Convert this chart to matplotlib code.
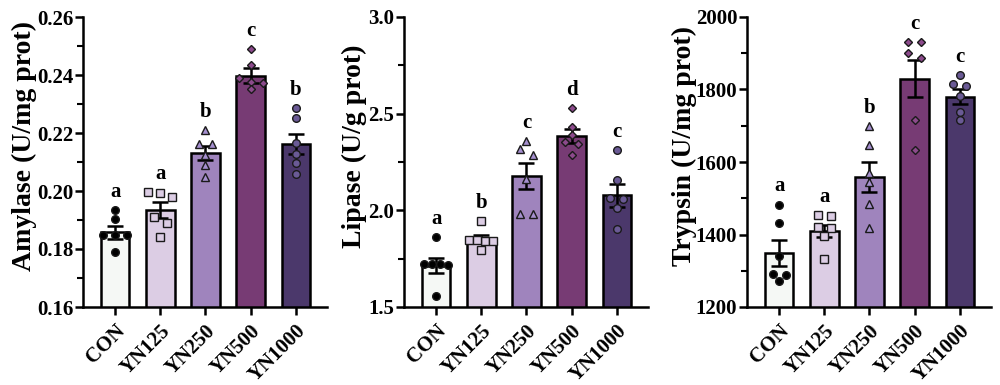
import numpy as np
import matplotlib
matplotlib.use("Agg")
import matplotlib.pyplot as plt
from matplotlib.ticker import MultipleLocator

plt.rcParams['font.family'] = ['Liberation Serif', 'DejaVu Serif']
plt.rcParams['font.weight'] = 'bold'

groups = ["CON", "YN125", "YN250", "YN500", "YN1000"]

# Amylase (U/mg prot)
amy_mean = [0.1857, 0.1935, 0.2130, 0.2398, 0.2162]
amy_sem = [0.0023, 0.0027, 0.0024, 0.0025, 0.0036]
amy_pts = [
    [0.1933, 0.1904, 0.1848, 0.1848, 0.1848, 0.1788],
    [0.1998, 0.1979, 0.1993, 0.1909, 0.1890, 0.1840],
    [0.2210, 0.2161, 0.2161, 0.2123, 0.2088, 0.2048],
    [0.2490, 0.2433, 0.2389, 0.2375, 0.2371, 0.2352],
    [0.2285, 0.2252, 0.2164, 0.2129, 0.2098, 0.2060],
]
amy_letters = ["a", "a", "b", "c", "b"]

# Lipase (U/g prot)
lip_mean = [1.713, 1.852, 2.177, 2.383, 2.077]
lip_sem = [0.038, 0.018, 0.068, 0.036, 0.058]
lip_pts = [
    [1.860, 1.722, 1.720, 1.718, 1.720, 1.557],
    [1.947, 1.847, 1.842, 1.846, 1.840, 1.796],
    [2.357, 2.319, 2.288, 2.160, 1.982, 1.982],
    [2.531, 2.432, 2.392, 2.354, 2.345, 2.288],
    [2.311, 2.155, 2.063, 2.060, 2.011, 1.904],
]
lip_letters = ["a", "b", "c", "d", "c"]

# Trypsin (U/mg prot)
try_mean = [1349, 1409, 1558, 1829, 1780]
try_sem = [35, 17, 42, 51, 21]
try_pts = [
    [1482.7, 1431.0, 1341.0, 1290.5, 1287.8, 1272.0],
    [1452.0, 1455.0, 1417.0, 1420.0, 1397.0, 1332.0],
    [1700.0, 1646.0, 1570.0, 1545.0, 1484.5, 1418.0],
    [1930.7, 1930.0, 1900.0, 1886.0, 1715.0, 1634.0],
    [1840.0, 1814.0, 1810.6, 1783.0, 1737.0, 1715.5],
]
try_letters = ["a", "a", "b", "c", "c"]

bar_colors = ["#f5f8f5", "#dccde4", "#9f84bd", "#773b74", "#4b386b"]
pt_colors = ["#000000", "#dccde4", "#a58fcf", "#8c4a8c", "#6a5a95"]
pt_markers = ["o", "s", "^", "D", "o"]
pt_sizes = [5.5, 5.5, 5.5, 4.5, 5.5]

panels = [
    dict(mean=amy_mean, sem=amy_sem, pts=amy_pts, letters=amy_letters,
         ylabel="Amylase (U/mg prot)", ylim=(0.16, 0.26), major=0.02, minor=0.01,
         fmt="{:.2f}", left=83, labx=37),
    dict(mean=lip_mean, sem=lip_sem, pts=lip_pts, letters=lip_letters,
         ylabel="Lipase (U/g prot)", ylim=(1.5, 3.0), major=0.5, minor=0.25,
         fmt="{:.1f}", left=404, labx=367),
    dict(mean=try_mean, sem=try_sem, pts=try_pts, letters=try_letters,
         ylabel="Trypsin (U/mg prot)", ylim=(1200, 2000), major=200, minor=100,
         fmt="{:.0f}", left=747, labx=697),
]

W, H = 1000, 385
fig = plt.figure(figsize=(W / 100, H / 100), dpi=100)
ax_w, ax_h = 244, 290
ax_bottom = H - 307
xlim = (-0.71, 4.69)
px_per_x = ax_w / (xlim[1] - xlim[0])


def swarm_offsets(vals, px_per_y, thresh=6.0, max_span=24.0, max_step=13.0):
    order = np.argsort(vals)[::-1]
    offs = np.zeros(len(vals))
    clusters = []
    for i in order:
        if clusters and abs(vals[clusters[-1][0]] - vals[i]) * px_per_y < thresh:
            clusters[-1].append(i)
        else:
            clusters.append([i])
    for c in clusters:
        n = len(c)
        if n == 1:
            continue
        step = min(max_step, max_span / (n - 1))
        for k, idx in enumerate(c):
            offs[idx] = (k - (n - 1) / 2) * step
    return offs / px_per_x


for p in panels:
    ax = fig.add_axes([p["left"] / W, ax_bottom / H, ax_w / W, ax_h / H])
    x = np.arange(len(groups))
    ax.bar(x, p["mean"], width=0.63, color=bar_colors, edgecolor="black",
           linewidth=1.8, zorder=2)
    ax.errorbar(x, p["mean"], yerr=p["sem"], fmt="none", ecolor="black",
                elinewidth=1.8, capsize=6, capthick=1.8, zorder=3)
    y0, y1 = p["ylim"]
    px_per_y = ax_h / (y1 - y0)
    for i, vals in enumerate(p["pts"]):
        vals = np.array(vals)
        offs = swarm_offsets(vals, px_per_y)
        ax.plot(x[i] + offs, vals, linestyle="none", marker=pt_markers[i],
                markersize=pt_sizes[i], markerfacecolor=pt_colors[i],
                markeredgecolor="#1a1a1a", markeredgewidth=1.0, zorder=4,
                clip_on=False)
        top = max(vals.max(), p["mean"][i] + p["sem"][i])
        ax.text(x[i], top + 0.045 * (y1 - y0), p["letters"][i], ha="center",
                va="baseline", fontsize=15, fontweight="bold")
    ax.set_xlim(*xlim)
    ax.set_ylim(y0, y1)
    ax.yaxis.set_major_locator(MultipleLocator(p["major"]))
    ax.yaxis.set_minor_locator(MultipleLocator(p["minor"]))
    ticks = np.arange(y0, y1 + p["major"] / 2, p["major"])
    ax.set_yticks(ticks)
    ax.set_yticklabels([p["fmt"].format(t) for t in ticks], fontsize=15,
                       fontweight="bold")
    ax.set_xticks(x)
    ax.set_xticklabels(groups, rotation=45, ha="right", va="top",
                       rotation_mode="anchor", fontsize=15, fontweight="bold")
    for s in ["top", "right"]:
        ax.spines[s].set_visible(False)
    for s in ["left", "bottom"]:
        ax.spines[s].set_linewidth(1.8)
    ax.tick_params(axis="y", which="major", length=6, width=1.8, pad=1)
    ax.tick_params(axis="y", which="minor", length=4, width=1.5)
    ax.tick_params(axis="x", which="major", length=6, width=1.8, pad=4)
    ax.set_ylabel(p["ylabel"], fontsize=20, fontweight="bold")
    ax.yaxis.set_label_coords((p["labx"] - p["left"]) / ax_w, 0.555)

fig.savefig("out.png", dpi=100)
